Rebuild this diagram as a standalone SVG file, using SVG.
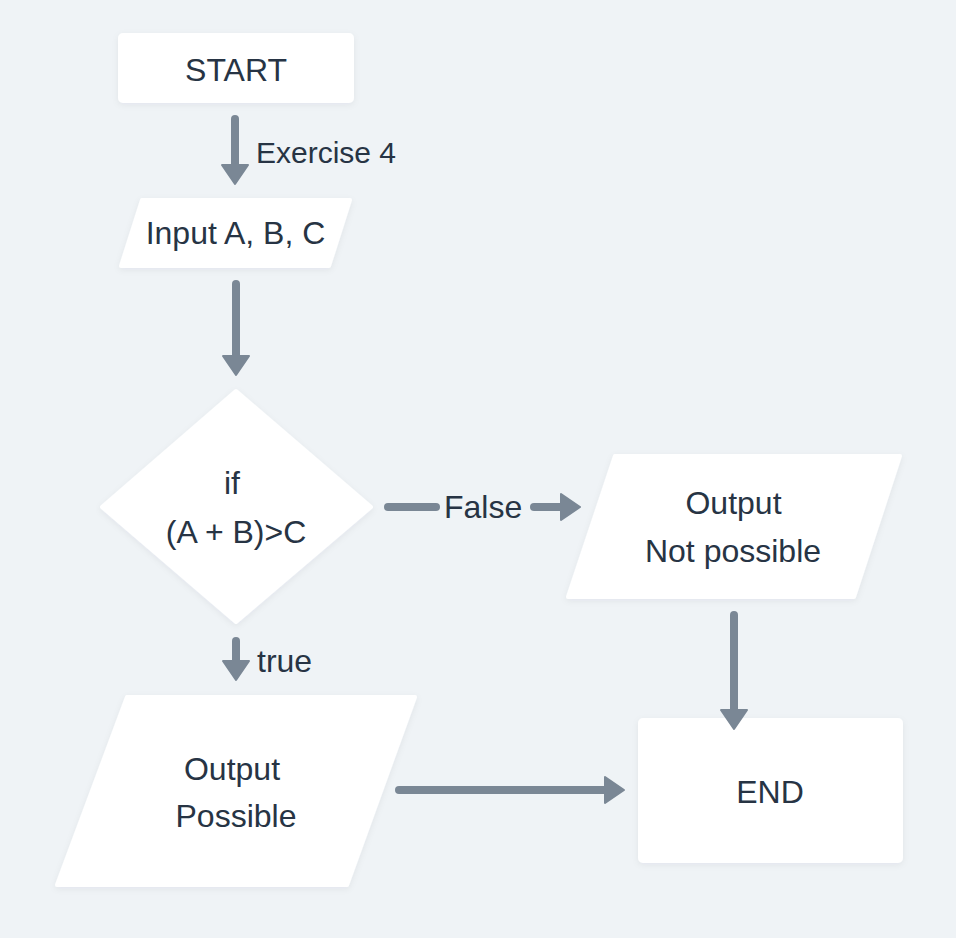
<svg xmlns="http://www.w3.org/2000/svg" width="956" height="938" viewBox="0 0 956 938">
  <style>
    .node { fill: #ffffff; stroke: #ffffff; stroke-width: 4; stroke-linejoin: round; filter: url(#sh); }
    .txt { font-family: "Liberation Sans", Arial, sans-serif; font-size: 32px; fill: #273444; }
    .mid { text-anchor: middle; }
    .edge { fill: none; stroke: #7a8795; stroke-width: 8; stroke-linecap: round; }
  </style>
  <defs>
    <filter id="sh" x="-10%" y="-10%" width="120%" height="130%">
      <feDropShadow dx="0" dy="2" stdDeviation="3" flood-color="#1f2d3d" flood-opacity="0.06"/>
    </filter>
    <marker id="ah" markerUnits="userSpaceOnUse" markerWidth="24" markerHeight="30" refX="1" refY="14" orient="auto" viewBox="-2 -1 24 30">
      <path d="M0,1 L19,14 L0,27 Z" fill="#7a8795" stroke="#7a8795" stroke-width="2" stroke-linejoin="round"/>
    </marker>
  </defs>
  <rect x="0" y="0" width="956" height="938" fill="#eff3f6"/>

  <g id="start">
    <rect class="node" x="120" y="35" width="232" height="66" rx="3"/>
    <text class="txt mid" x="236" y="81">START</text>
  </g>

  <g id="input">
    <polygon class="node" points="142,200 350,200 329,266 121,266"/>
    <text class="txt mid" x="235.5" y="244">Input A, B, C</text>
  </g>

  <g id="decision">
    <polygon class="node" points="236,391 371,507 236,622 102,507"/>
    <text class="txt mid" x="232" y="494">if</text>
    <text class="txt mid" x="236" y="543">(A + B)&gt;C</text>
  </g>

  <g id="output-not-possible">
    <polygon class="node" points="615,456 900,456 854,597 568,597"/>
    <text class="txt mid" x="733.5" y="514">Output</text>
    <text class="txt mid" x="733" y="562">Not possible</text>
  </g>

  <g id="output-possible">
    <polygon class="node" points="127,697 415,697 347,885 57,885"/>
    <text class="txt mid" x="232" y="780">Output</text>
    <text class="txt mid" x="236" y="827">Possible</text>
  </g>

  <g id="end">
    <rect class="node" x="640" y="720" width="261" height="141" rx="3"/>
    <text class="txt mid" x="770" y="803">END</text>
  </g>

  <g id="connectors">
    <line class="edge" x1="235" y1="119" x2="235" y2="166" marker-end="url(#ah)"/>
    <text class="txt" x="256" y="163" style="font-size:30px">Exercise 4</text>
    <line class="edge" x1="236" y1="284" x2="236" y2="357" marker-end="url(#ah)"/>
    <line class="edge" x1="388" y1="507" x2="436" y2="507"/>
    <text class="txt" x="444" y="518">False</text>
    <line class="edge" x1="534" y1="507" x2="562" y2="507" marker-end="url(#ah)"/>
    <line class="edge" x1="236" y1="641" x2="236" y2="662" marker-end="url(#ah)"/>
    <text class="txt" x="257" y="672">true</text>
    <line class="edge" x1="734" y1="615" x2="734" y2="711" marker-end="url(#ah)"/>
    <line class="edge" x1="399" y1="790" x2="606" y2="790" marker-end="url(#ah)"/>
  </g>
</svg>
